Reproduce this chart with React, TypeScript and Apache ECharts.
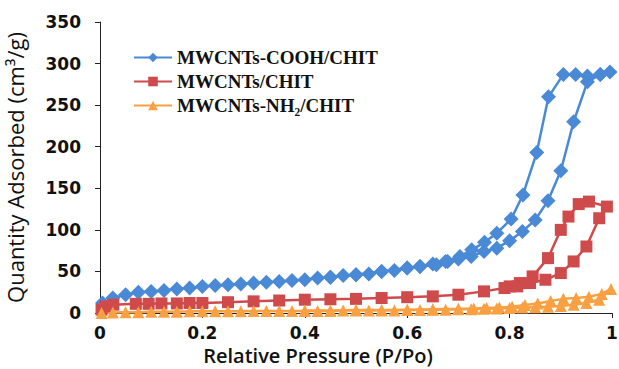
import React, { useEffect, useRef } from "react";
import * as echarts from "echarts";

const seriesNames = ["MWCNTs-COOH/CHIT", "MWCNTs/CHIT", "MWCNTs-NH\u2082/CHIT"];

const blueAdsX = [0.005, 0.025, 0.05, 0.075, 0.1, 0.125, 0.15, 0.175, 0.2, 0.225, 0.25, 0.275, 0.3, 0.325, 0.35, 0.375, 0.4, 0.425, 0.45, 0.475, 0.5, 0.525, 0.55, 0.575, 0.6, 0.625, 0.65, 0.675, 0.7, 0.725, 0.75, 0.775, 0.8, 0.825, 0.85, 0.875, 0.9, 0.925, 0.952, 0.977, 0.996];
const blueAdsY = [12, 18, 22, 25, 26, 27, 29, 30, 32, 33, 34, 35, 36, 37, 38, 39, 40, 42, 43, 45, 46, 47, 50, 51, 54, 56, 59, 62, 65, 68, 74, 78, 87, 98, 112, 135, 171, 230, 278, 287, 290];
const blueDesX = [0.977, 0.952, 0.929, 0.905, 0.876, 0.853, 0.826, 0.803, 0.775, 0.751, 0.726, 0.703, 0.679, 0.657, 0.625, 0.6, 0.55, 0.5, 0.45];
const blueDesY = [287, 285, 287, 287, 260, 193, 142, 113, 96, 85, 76, 68, 62, 58, 56, 54, 50, 46, 43];

const redAdsX = [0.003, 0.01, 0.026, 0.07, 0.095, 0.12, 0.15, 0.175, 0.2, 0.25, 0.3, 0.35, 0.4, 0.45, 0.5, 0.55, 0.6, 0.65, 0.7, 0.75, 0.79, 0.815, 0.84, 0.87, 0.9, 0.925, 0.95, 0.975, 0.99];
const redAdsY = [4, 8, 10, 11, 11, 11.5, 11.5, 12, 12, 13, 14, 15, 16, 16.5, 17, 18, 19, 20, 22, 26, 30, 32, 36, 40, 48, 62, 80, 114, 128];
const redDesX = [0.955, 0.935, 0.915, 0.9, 0.875, 0.845, 0.82, 0.8];
const redDesY = [134, 131, 116, 100, 66, 44, 36, 32];

const orangeAdsX = [0.003, 0.025, 0.05, 0.075, 0.1, 0.125, 0.15, 0.175, 0.2, 0.225, 0.25, 0.275, 0.3, 0.325, 0.35, 0.375, 0.4, 0.425, 0.45, 0.475, 0.5, 0.525, 0.55, 0.575, 0.6, 0.625, 0.65, 0.675, 0.7, 0.725, 0.75, 0.775, 0.8, 0.825, 0.85, 0.875, 0.9, 0.925, 0.95, 0.975, 0.998];
const orangeAdsY = [0, 0.5, 1, 1, 1.5, 1.5, 1.5, 2, 2, 2, 2, 2, 2.5, 2.5, 2.5, 2.5, 2.5, 2.5, 2.5, 3, 3, 3, 3, 3, 3.5, 3.5, 4, 4, 4.5, 4.5, 5, 5.5, 6, 6.5, 7, 7.5, 8.5, 10, 12, 16, 29];
const orangeDesX = [0.98, 0.955, 0.93, 0.905, 0.88, 0.855, 0.83, 0.805, 0.78, 0.755, 0.73, 0.7, 0.65, 0.6, 0.55, 0.5, 0.45, 0.4];
const orangeDesY = [23, 19.5, 18, 17, 14.5, 11.5, 9.5, 7.5, 6.5, 6, 5.5, 5, 4.5, 4, 3.5, 3.5, 3, 3];

const xTicks = { min: 0, max: 1, interval: 0.2 };
const yTicks = { min: 0, max: 350, interval: 50 };

function pairs(xs: number[], ys: number[]) {
  return xs.map((x, i) => [x, ys[i]]);
}

export default function App() {
  const ref = useRef<HTMLDivElement>(null);
  useEffect(() => {
    if (!ref.current) return;
    const chart = echarts.init(ref.current, null, { renderer: "svg" });
    const colors = ["#4A89D6", "#CF4B4B", "#F9A042"];
    const mk = (name: string, color: string, symbol: string, size: number, data: number[][]) => ({
      name,
      type: "line",
      data,
      symbol,
      symbolSize: size,
      showSymbol: true,
      lineStyle: { color, width: 2.5 },
      itemStyle: { color },
    });
    chart.setOption({
      animation: false,
      color: colors,
      grid: { left: 100, right: 7, top: 22, bottom: 56, containLabel: false, outerBoundsMode: "none" },
      legend: {
        orient: "vertical",
        left: 133,
        top: 48,
        padding: 0,
        itemWidth: 38,
        itemHeight: 12,
        itemGap: 5,
        textStyle: { fontFamily: "Liberation Serif", fontWeight: "bold", fontSize: 19, color: "#111" },
        data: seriesNames,
      },
      xAxis: {
        type: "value",
        min: xTicks.min,
        max: xTicks.max,
        interval: xTicks.interval,
        name: "Relative Pressure (P/Po)",
        nameLocation: "middle",
        nameGap: 28,
        nameTextStyle: { fontFamily: "Open Sans", fontWeight: 600, fontSize: 20, lineHeight: 20, color: "#111", padding: [0, 76, 0, 0] },
        axisLine: { lineStyle: { color: "#222", width: 1 } },
        axisTick: { lineStyle: { color: "#222" }, length: 5 },
        axisLabel: { fontFamily: "DejaVu Sans", fontWeight: "bold", fontSize: 17, color: "#111", margin: 11 },
        splitLine: { show: false },
      },
      yAxis: {
        type: "value",
        min: yTicks.min,
        max: yTicks.max,
        interval: yTicks.interval,
        name: "Quantity Adsorbed (cm\u00b3/g)",
        nameLocation: "middle",
        nameGap: 74,
        nameTextStyle: { fontFamily: "Open Sans", fontSize: 22, color: "#111" },
        axisLine: { show: true, lineStyle: { color: "#222", width: 1 } },
        axisTick: { show: true, lineStyle: { color: "#222" }, length: 5 },
        axisLabel: { fontFamily: "DejaVu Sans", fontWeight: "bold", fontSize: 17, color: "#111", margin: 19 },
        splitLine: { show: false },
      },
      series: [
        mk(seriesNames[0], colors[0], "diamond", 15, pairs(blueAdsX, blueAdsY).concat(pairs(blueDesX, blueDesY))),
        mk(seriesNames[1], colors[1], "rect", 12, pairs(redAdsX, redAdsY).concat(pairs(redDesX, redDesY))),
        mk(seriesNames[2], colors[2], "triangle", 12, pairs(orangeAdsX, orangeAdsY).concat(pairs(orangeDesX, orangeDesY))),
      ],
    });
    return () => chart.dispose();
  }, []);
  return <div ref={ref} style={{ width: 619, height: 369, position: "absolute", left: 0, top: 0 }} />;
}
